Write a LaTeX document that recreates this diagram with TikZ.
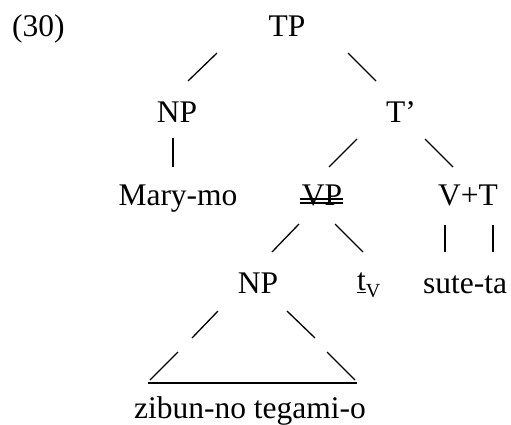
\documentclass[tikz,border=0pt]{standalone}
\usepackage{fontspec}
\setmainfont{Liberation Serif}

\newcommand{\treefont}{\fontsize{31.5}{36}\selectfont}

\tikzset{
  cat/.style={inner sep=0pt, anchor=base, font=\treefont},
  branch/.style={line width=1.3pt},
  strike/.style={line width=1.1pt},
}

\begin{document}
\begin{tikzpicture}[x=1pt, y=-1pt]
\useasboundingbox (0,0) rectangle (511,425);

% labels of the tree
\node[cat, anchor=base west] (ex) at (12,37) {(30)};
\node[cat] (TP) at (287,37) {TP};
\node[cat] (NP) at (177,123) {NP};
\node[cat] (Tbar) at (401,123) {T’};
\node[cat] (Mary) at (178,205) {Mary-mo};
\node[cat] (VP) at (322,205) {VP};
\node[cat] (VT) at (468,205) {V+T};
\node[cat] (NPobj) at (258,293) {NP};
\node[cat, anchor=base west] (tv) at (357,290)
  {\underline{t}\raisebox{-7pt}{\fontsize{20}{20}\selectfont V}};
\node[cat] (sute) at (465,293) {sute-ta};
\node[cat] (zibun) at (250,418) {zibun-no tegami-o};

% branches
\draw[branch] ([shift={(-70,16)}]TP.base) -- ([shift={(11,-42)}]NP.base);
\draw[branch] ([shift={(61,16)}]TP.base) -- ([shift={(-25,-42)}]Tbar.base);
\draw[branch] ([shift={(-4,15)}]NP.base) -- ([shift={(-5,-38)}]Mary.base);
\draw[branch] ([shift={(-44,16)}]Tbar.base) -- ([shift={(7,-38)}]VP.base);
\draw[branch] ([shift={(24,16)}]Tbar.base) -- ([shift={(-15,-38)}]VT.base);
\draw[branch] ([shift={(-23,19)}]VP.base) -- ([shift={(14,-41)}]NPobj.base);
\draw[branch] ([shift={(13,19)}]VP.base) -- ([shift={(6,-38)}]tv.base west);
\draw[branch] ([shift={(-23,20)}]VT.base) -- ([shift={(-20,-41)}]sute.base);
\draw[branch] ([shift={(25,20)}]VT.base) -- ([shift={(28,-41)}]sute.base);

% the deleted VP
\draw[strike] ([shift={(-2,-6)}]VP.base west) -- ([shift={(1,-6)}]VP.base east);
\draw[strike] ([shift={(-2,-2)}]VP.base west) -- ([shift={(1,-2)}]VP.base east);

% triangle over the object
\draw[branch] ([shift={(-40,18)}]NPobj.base) -- ([shift={(-66,45)}]NPobj.base);
\draw[branch] ([shift={(29,18)}]NPobj.base) -- ([shift={(57,45)}]NPobj.base);
\draw[branch] ([shift={(-72,-66)}]zibun.base) -- ([shift={(-100,-38)}]zibun.base);
\draw[branch] ([shift={(77,-66)}]zibun.base) -- ([shift={(105,-38)}]zibun.base);
\draw[line width=2.2pt] ([shift={(-102,-35)}]zibun.base) -- ([shift={(107,-35)}]zibun.base);
\end{tikzpicture}
\end{document}
